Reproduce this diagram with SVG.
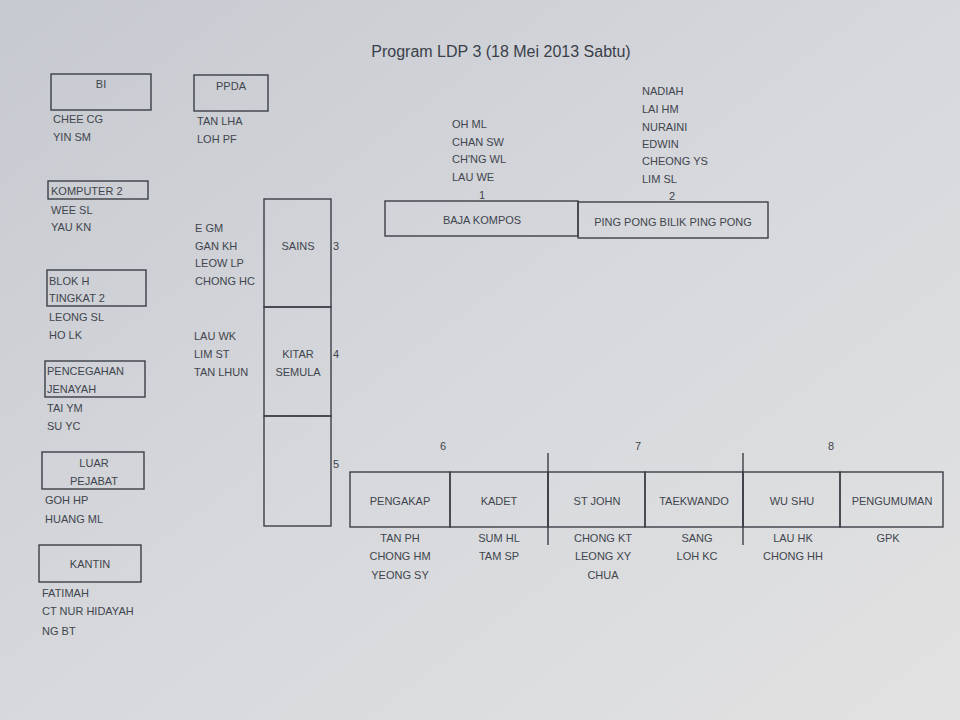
<svg xmlns="http://www.w3.org/2000/svg" width="960" height="720" viewBox="0 0 960 720">
<defs>
<linearGradient id="paper" x1="0" y1="0" x2="1" y2="1">
<stop offset="0" stop-color="#c6c9cf"/>
<stop offset="0.5" stop-color="#d6d8dc"/>
<stop offset="1" stop-color="#e2e2e2"/>
</linearGradient>
<style>
text{font-family:"Liberation Sans","Open Sans",Arial,sans-serif;font-size:11px;fill:#41454d}
.c{text-anchor:middle}
.t{font-size:16px;fill:#3a3f4a}
.b{fill:none;stroke:#3b3f47;stroke-width:1.4}
.l{stroke:#3b3f47;stroke-width:1.4}
</style>
</defs>
<rect width="960" height="720" fill="url(#paper)"/>
<text class="t c" x="501" y="57">Program LDP 3 (18 Mei 2013 Sabtu)</text>

<g id="bi"><rect class="b" x="51" y="74" width="100" height="36"/><text class="c" x="101" y="88">BI</text>
<text x="53" y="123">CHEE CG</text><text x="53" y="141">YIN SM</text></g>

<g id="ppda"><rect class="b" x="194" y="75" width="74" height="36"/><text class="c" x="231" y="90">PPDA</text>
<text x="197" y="125">TAN LHA</text><text x="197" y="143">LOH PF</text></g>

<g id="komputer"><rect class="b" x="48" y="181" width="100" height="18"/><text x="51" y="195">KOMPUTER 2</text>
<text x="51" y="214">WEE SL</text><text x="51" y="231">YAU KN</text></g>

<g id="blokh"><rect class="b" x="47" y="270" width="99" height="36"/><text x="49" y="285">BLOK H</text><text x="49" y="302">TINGKAT 2</text>
<text x="49" y="321">LEONG SL</text><text x="49" y="339">HO LK</text></g>

<g id="pencegahan"><rect class="b" x="45" y="361" width="100" height="36"/><text x="47" y="375">PENCEGAHAN</text><text x="47" y="393">JENAYAH</text>
<text x="47" y="412">TAI YM</text><text x="47" y="430">SU YC</text></g>

<g id="luar"><rect class="b" x="42" y="452" width="102" height="37"/><text class="c" x="94" y="467">LUAR</text><text class="c" x="94" y="485">PEJABAT</text>
<text x="45" y="504">GOH HP</text><text x="45" y="523">HUANG ML</text></g>

<g id="kantin"><rect class="b" x="39" y="545" width="102" height="37"/><text class="c" x="90" y="568">KANTIN</text>
<text x="42" y="597">FATIMAH</text><text x="42" y="615">CT NUR HIDAYAH</text><text x="42" y="635">NG BT</text></g>

<g id="sains"><rect class="b" x="264" y="199" width="67" height="108"/><text class="c" x="298" y="250">SAINS</text><text x="333" y="250">3</text>
<text x="195" y="232">E GM</text><text x="195" y="250">GAN KH</text><text x="195" y="267">LEOW LP</text><text x="195" y="285">CHONG HC</text></g>

<g id="kitar"><rect class="b" x="264" y="307" width="67" height="109"/><text class="c" x="298" y="358">KITAR</text><text class="c" x="298" y="376">SEMULA</text><text x="333" y="358">4</text>
<text x="194" y="340">LAU WK</text><text x="194" y="358">LIM ST</text><text x="194" y="376">TAN LHUN</text></g>

<g id="slot5"><rect class="b" x="264" y="416" width="67" height="110"/><text x="333" y="468">5</text></g>

<g id="baja"><rect class="b" x="385" y="201" width="193" height="35"/><text class="c" x="482" y="224">BAJA KOMPOS</text><text class="c" x="482" y="199">1</text>
<text x="452" y="128">OH ML</text><text x="452" y="146">CHAN SW</text><text x="452" y="163">CH'NG WL</text><text x="452" y="181">LAU WE</text></g>

<g id="pingpong"><rect class="b" x="578" y="202" width="190" height="36"/><text class="c" x="673" y="226">PING PONG BILIK PING PONG</text><text class="c" x="672" y="200">2</text>
<text x="642" y="95">NADIAH</text><text x="642" y="113">LAI HM</text><text x="642" y="131">NURAINI</text><text x="642" y="148">EDWIN</text><text x="642" y="165">CHEONG YS</text><text x="642" y="183">LIM SL</text></g>

<g id="pengakap"><rect class="b" x="350" y="472" width="100" height="55"/><text class="c" x="400" y="505">PENGAKAP</text><text class="c" x="443" y="450">6</text>
<text class="c" x="400" y="542">TAN PH</text><text class="c" x="400" y="560">CHONG HM</text><text class="c" x="400" y="579">YEONG SY</text></g>

<g id="kadet"><rect class="b" x="450" y="472" width="98" height="55"/><text class="c" x="499" y="505">KADET</text>
<text class="c" x="499" y="542">SUM HL</text><text class="c" x="499" y="560">TAM SP</text></g>

<g id="stjohn"><rect class="b" x="548" y="472" width="97" height="55"/><text class="c" x="597" y="505">ST JOHN</text><text class="c" x="638" y="450">7</text>
<text class="c" x="603" y="542">CHONG KT</text><text class="c" x="603" y="560">LEONG XY</text><text class="c" x="603" y="579">CHUA</text></g>

<g id="taekwando"><rect class="b" x="645" y="472" width="98" height="55"/><text class="c" x="694" y="505">TAEKWANDO</text>
<text class="c" x="697" y="542">SANG</text><text class="c" x="697" y="560">LOH KC</text></g>

<g id="wushu"><rect class="b" x="743" y="472" width="97" height="55"/><text class="c" x="792" y="505">WU SHU</text><text class="c" x="831" y="450">8</text>
<text class="c" x="793" y="542">LAU HK</text><text class="c" x="793" y="560">CHONG HH</text></g>

<g id="pengumuman"><rect class="b" x="840" y="472" width="103" height="55"/><text class="c" x="892" y="505">PENGUMUMAN</text>
<text class="c" x="888" y="542">GPK</text></g>

<g id="connectors">
<line class="l" x1="548" y1="453" x2="548" y2="545"/>
<line class="l" x1="743" y1="453" x2="743" y2="545"/>
</g>
</svg>
